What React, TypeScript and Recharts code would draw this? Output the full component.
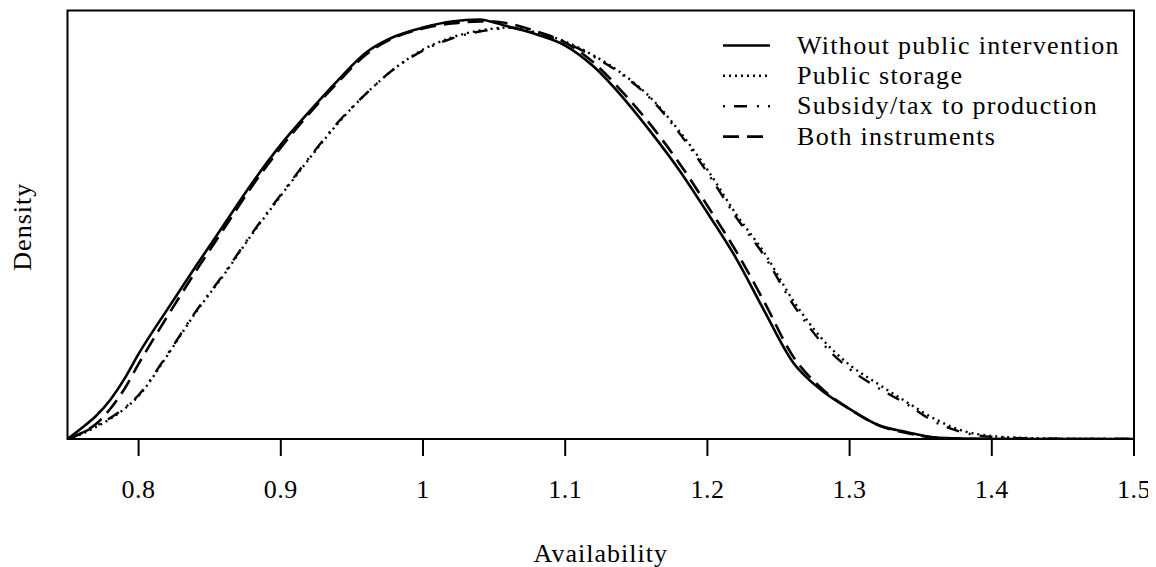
import { LineChart, Line, XAxis, YAxis, ReferenceArea, Legend } from "recharts";

// availability grid and density values
const xs = [
  0.75, 0.76, 0.77, 0.78, 0.79, 0.8, 0.82, 0.84, 0.86, 0.88, 0.9, 0.92, 0.94, 0.96, 0.98, 1.0,
  1.02, 1.04, 1.05, 1.06, 1.08, 1.1, 1.12, 1.14, 1.16, 1.18, 1.2, 1.22, 1.24, 1.26, 1.28, 1.3,
  1.32, 1.34, 1.36, 1.38, 1.4, 1.42, 1.45, 1.5
];

const withoutIntervention = [
  0, 0.11, 0.23, 0.39, 0.6, 0.85, 1.29, 1.72, 2.14, 2.56, 2.94, 3.27, 3.58, 3.86, 4.02, 4.11,
  4.17, 4.19, 4.16, 4.12, 4.04, 3.93, 3.72, 3.42, 3.07, 2.69, 2.26, 1.81, 1.28, 0.77, 0.49, 0.3,
  0.14, 0.07, 0.015, 0.004, 0, 0, 0, 0
];

const publicStorage = [
  0, 0.05, 0.12, 0.2, 0.3, 0.43, 0.83, 1.26, 1.64, 2.05, 2.43, 2.8, 3.15, 3.45, 3.7, 3.89,
  4.01, 4.08, 4.1, 4.11, 4.06, 3.97, 3.83, 3.65, 3.41, 3.08, 2.69, 2.25, 1.86, 1.39, 1.01, 0.74,
  0.55, 0.37, 0.2, 0.08, 0.03, 0.012, 0.003, 0
];

const subsidyTax = [
  0, 0.06, 0.13, 0.21, 0.31, 0.44, 0.84, 1.27, 1.65, 2.06, 2.44, 2.81, 3.16, 3.45, 3.7, 3.88,
  4.0, 4.07, 4.09, 4.11, 4.05, 3.96, 3.82, 3.64, 3.4, 3.06, 2.66, 2.22, 1.83, 1.35, 0.97, 0.7,
  0.51, 0.35, 0.17, 0.065, 0.02, 0.008, 0.002, 0
];

const bothInstruments = [
  0, 0.06, 0.15, 0.3, 0.5, 0.75, 1.22, 1.67, 2.1, 2.53, 2.91, 3.25, 3.56, 3.84, 4.01, 4.1,
  4.15, 4.17, 4.17, 4.15, 4.07, 3.96, 3.76, 3.47, 3.14, 2.76, 2.33, 1.88, 1.37, 0.83, 0.51, 0.3,
  0.14, 0.06, 0.015, 0.004, 0, 0, 0, 0
];

const xTicks = [0.8, 0.9, 1.0, 1.1, 1.2, 1.3, 1.4, 1.5];

const series = [
  { key: "none", name: "Without public intervention", values: withoutIntervention, dash: undefined, width: 2.6 },
  { key: "storage", name: "Public storage", values: publicStorage, dash: "2 4", width: 2.4 },
  { key: "subsidy", name: "Subsidy/tax to production", values: subsidyTax, dash: "2 9 13 10", width: 2.4 },
  { key: "both", name: "Both instruments", values: bothInstruments, dash: "16 8", width: 2.6 }
];

const data = xs.map((x, i) => {
  const row: Record<string, number> = { x };
  series.forEach((s) => {
    row[s.key] = s.values[i];
  });
  return row;
});

const textStyle = {
  fontFamily: '"Liberation Serif", "DejaVu Serif", serif',
  fontSize: 26,
  letterSpacing: "1.3px"
};

const fmt = (v: number) => (v === 1 ? "1" : v.toFixed(1));

function Tick(props: any) {
  const { x, y, payload } = props;
  return (
    <text x={x} y={y + 40} textAnchor="middle" fill="#000" style={{ ...textStyle, letterSpacing: "0.5px" }}>
      {fmt(payload.value)}
    </text>
  );
}

function XTitle(props: any) {
  const { viewBox } = props;
  return (
    <text x={viewBox.x + viewBox.width / 2} y={viewBox.y + 123} textAnchor="middle" fill="#000" style={{ ...textStyle, letterSpacing: "1px" }}>
      Availability
    </text>
  );
}

function YTitle(props: any) {
  const { viewBox } = props;
  const cy = viewBox.y + viewBox.height / 2 + 2;
  return (
    <text x={23} y={cy} transform={`rotate(-90 23 ${cy})`} textAnchor="middle" fill="#000" style={{ ...textStyle, letterSpacing: "1px" }}>
      Density
    </text>
  );
}

function LegendBox() {
  const baselines = [45.5, 75.8, 106.2, 136.6];
  return (
    <svg width={440} height={150} style={{ display: "block" }}>
      {series.map((s, i) => (
        <g key={s.key}>
          <line
            x1={15}
            x2={62}
            y1={baselines[i] - 8}
            y2={baselines[i] - 8}
            stroke="#000"
            strokeWidth={s.width}
            strokeDasharray={s.dash}
          />
          <text x={89} y={baselines[i]} fill="#000" style={textStyle}>
            {s.name}
          </text>
        </g>
      ))}
    </svg>
  );
}

export default function App() {
  return (
    <LineChart width={1148} height={559} data={data} margin={{ top: 2.5, right: 22, bottom: 0, left: 0 }}>
      <XAxis
        dataKey="x"
        type="number"
        domain={[0.75, 1.5]}
        ticks={xTicks}
        interval={0}
        allowDataOverflow
        axisLine={false}
        tickLine={{ stroke: "#000", strokeWidth: 2 }}
        tickSize={17}
        height={128}
        tick={<Tick />}
        label={<XTitle />}
      />
      <YAxis
        type="number"
        domain={[0, 4.28]}
        allowDataOverflow
        width={59.5}
        tick={false}
        tickLine={false}
        axisLine={false}
        label={<YTitle />}
      />
      {series.map((s) => (
        <Line
          key={s.key}
          dataKey={s.key}
          name={s.name}
          type="monotone"
          stroke="#000"
          strokeWidth={s.width}
          strokeDasharray={s.dash}
          dot={false}
          activeDot={false}
          isAnimationActive={false}
        />
      ))}
      <ReferenceArea
        x1={0.75}
        x2={1.5}
        y1={0}
        y2={4.28}
        fill="none"
        stroke="#000"
        strokeWidth={2}
        ifOverflow="visible"
      />
      <Legend
        layout="horizontal"
        verticalAlign="middle"
        align="center"
        wrapperStyle={{ left: 700, top: 0, width: 440, height: 150 }}
        content={<LegendBox />}
      />
    </LineChart>
  );
}
